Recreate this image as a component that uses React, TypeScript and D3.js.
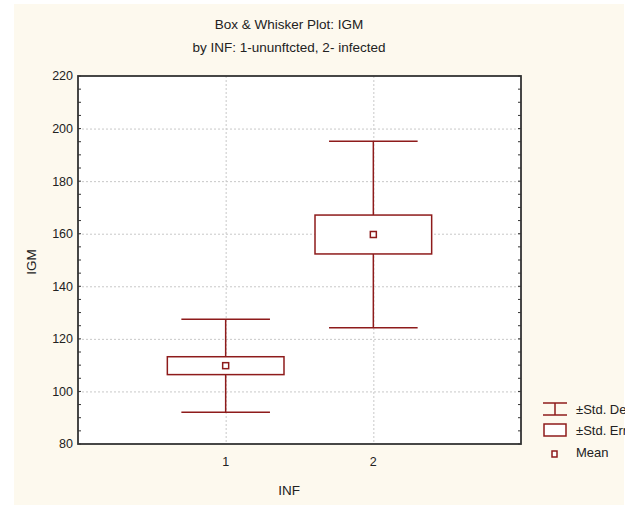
import React, {useRef, useEffect} from 'react';
import * as d3 from 'd3';

const width = 638;
const height = 505;

const categories = ['1', '2'];
const means = [109.8, 159.7];
const stdErr = [3.4, 7.4];
const stdDev = [17.7, 35.5];
const yTicks = [80, 100, 120, 140, 160, 180, 200, 220];

const title = 'Box & Whisker Plot: IGM';
const subtitle = 'by INF: 1-ununftcted, 2- infected';
const legendLabels = ['±Std. Dev.', '±Std. Err.', 'Mean'];

const red = '#8e1b1b';
const font = '"Liberation Sans", Arial, sans-serif';

const draw = (container: SVGSVGElement) => {
  const svg = d3.select(container);
  svg.selectAll('*').remove();

  const left = 78, right = 521, top = 76, bottom = 444;
  const x = d3.scaleLinear().domain([0, categories.length + 1]).range([left, right]);
  const y = d3.scaleLinear().domain([80, 220]).range([bottom, top]);
  const step = x(1) - x(0);

  svg.append('defs').append('clipPath').attr('id', 'page')
    .append('rect').attr('x', 14).attr('y', 4).attr('width', 611).attr('height', 501);

  svg.append('rect').attr('x', 14).attr('y', 4).attr('width', 610).attr('height', 501).attr('fill', '#fdf9ee');
  svg.append('rect').attr('x', left).attr('y', top).attr('width', right - left).attr('height', bottom - top).attr('fill', 'white');

  // grid
  const grid = svg.append('g').attr('stroke', '#c8c8c8').attr('stroke-dasharray', '2,2').attr('stroke-width', 1);
  yTicks.slice(1, -1).forEach(v => {
    grid.append('line').attr('x1', left).attr('x2', right).attr('y1', y(v) + 0.5).attr('y2', y(v) + 0.5);
  });
  categories.forEach((c, i) => {
    grid.append('line').attr('x1', x(i + 1) + 0.5).attr('x2', x(i + 1) + 0.5).attr('y1', top).attr('y2', bottom);
  });

  // minor ticks
  const ticks = svg.append('g').attr('stroke', '#333').attr('stroke-width', 1);
  d3.range(80, 221, 5).forEach(v => {
    ticks.append('line').attr('x1', left).attr('x2', left + 3).attr('y1', y(v)).attr('y2', y(v));
    ticks.append('line').attr('x1', right - 3).attr('x2', right).attr('y1', y(v)).attr('y2', y(v));
  });

  // boxes
  const g = svg.append('g').attr('stroke', red).attr('fill', 'none').attr('stroke-width', 1.5);
  categories.forEach((c, i) => {
    const cx = x(i + 1);
    const m = means[i];
    g.append('line').attr('x1', cx).attr('x2', cx).attr('y1', y(m + stdDev[i])).attr('y2', y(m + stdErr[i]));
    g.append('line').attr('x1', cx).attr('x2', cx).attr('y1', y(m - stdErr[i])).attr('y2', y(m - stdDev[i]));
    [m + stdDev[i], m - stdDev[i]].forEach(v => {
      g.append('line').attr('x1', cx - step * 0.3).attr('x2', cx + step * 0.3).attr('y1', y(v)).attr('y2', y(v));
    });
    g.append('rect')
      .attr('x', cx - step * 0.395).attr('width', step * 0.79)
      .attr('y', y(m + stdErr[i])).attr('height', y(m - stdErr[i]) - y(m + stdErr[i]))
      .attr('fill', 'white');
    g.append('rect').attr('x', cx - 3).attr('y', y(m) - 3).attr('width', 6).attr('height', 6).attr('fill', 'white');
  });

  // frame
  svg.append('rect').attr('x', left).attr('y', top).attr('width', right - left).attr('height', bottom - top)
    .attr('fill', 'none').attr('stroke', '#333').attr('stroke-width', 1.8);

  const text = svg.append('g').attr('font-family', font).attr('font-size', 12.5).attr('fill', '#222')
    .attr('clip-path', 'url(#page)');
  yTicks.forEach(v => {
    text.append('text').attr('x', 73).attr('y', y(v)).attr('dy', '0.35em').attr('text-anchor', 'end').text(v);
  });
  categories.forEach((c, i) => {
    text.append('text').attr('x', x(i + 1)).attr('y', 466).attr('text-anchor', 'middle').text(c);
  });
  text.append('text').attr('x', 289).attr('y', 495).attr('font-size', 13.5).attr('text-anchor', 'middle').text('INF');
  text.append('text').attr('transform', `translate(36, ${(top + bottom) / 2 + 2}) rotate(-90)`)
    .attr('font-size', 13.5).attr('text-anchor', 'middle').text('IGM');
  text.append('text').attr('x', 289).attr('y', 29).attr('font-size', 13.5).attr('text-anchor', 'middle').text(title);
  text.append('text').attr('x', 289).attr('y', 52).attr('font-size', 13.5).attr('text-anchor', 'middle').text(subtitle);

  // legend
  const lg = svg.append('g').attr('stroke', red).attr('fill', 'none').attr('stroke-width', 1.5);
  lg.append('line').attr('x1', 543).attr('x2', 567).attr('y1', 403).attr('y2', 403);
  lg.append('line').attr('x1', 543).attr('x2', 567).attr('y1', 415).attr('y2', 415);
  lg.append('line').attr('x1', 555).attr('x2', 555).attr('y1', 403).attr('y2', 415);
  lg.append('rect').attr('x', 544).attr('y', 424).attr('width', 22).attr('height', 12).attr('fill', 'white');
  lg.append('rect').attr('x', 552).attr('y', 451).attr('width', 5).attr('height', 6).attr('fill', 'white');
  legendLabels.forEach((l, i) => {
    text.append('text').attr('x', 576).attr('y', 409 + i * 21.5).attr('dy', '0.35em').attr('font-size', 13).text(l);
  });
};

export default function App() {
  const ref = useRef<SVGSVGElement>(null);
  useEffect(() => {
    if (ref.current) draw(ref.current);
  }, []);
  return (
    <svg ref={ref} width={width} height={height}
      style={{position: 'absolute', left: 0, top: 0, background: 'white'}} />
  );
}
